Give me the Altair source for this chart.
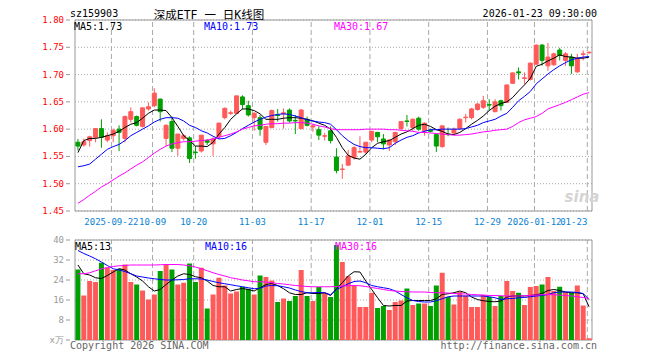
import altair as alt
import pandas as pd

# ---------------- data ----------------
opens = [1.576, 1.571, 1.579, 1.585, 1.601, 1.580, 1.588, 1.600, 1.583, 1.618, 1.623, 1.605, 1.637, 1.643, 1.655, 1.583,
         1.614, 1.565, 1.583, 1.584, 1.558, 1.560, 1.579, 1.573, 1.587, 1.621, 1.629, 1.629, 1.659, 1.643, 1.621, 1.621,
         1.576, 1.603, 1.626, 1.628, 1.635, 1.616, 1.601, 1.618, 1.604, 1.599, 1.587, 1.597, 1.549, 1.526, 1.534, 1.548,
         1.558, 1.558, 1.580, 1.594, 1.582, 1.571, 1.577, 1.601, 1.615, 1.603, 1.620, 1.597, 1.598, 1.590, 1.568, 1.591,
         1.593, 1.601, 1.621, 1.621, 1.636, 1.640, 1.645, 1.632, 1.652, 1.649, 1.684, 1.705, 1.693, 1.691, 1.719, 1.754,
         1.716, 1.718, 1.745, 1.726, 1.732, 1.705, 1.737, 1.740]
highs = [1.582, 1.583, 1.588, 1.602, 1.618, 1.594, 1.601, 1.607, 1.625, 1.640, 1.625, 1.640, 1.649, 1.675, 1.656, 1.609,
         1.623, 1.591, 1.591, 1.587, 1.569, 1.589, 1.582, 1.585, 1.612, 1.640, 1.634, 1.661, 1.662, 1.652, 1.631, 1.626,
         1.605, 1.636, 1.637, 1.638, 1.638, 1.626, 1.637, 1.623, 1.609, 1.605, 1.593, 1.605, 1.565, 1.536, 1.562, 1.569,
         1.587, 1.576, 1.597, 1.595, 1.591, 1.582, 1.595, 1.615, 1.626, 1.620, 1.623, 1.612, 1.601, 1.591, 1.607, 1.603,
         1.603, 1.620, 1.628, 1.639, 1.648, 1.661, 1.655, 1.655, 1.654, 1.681, 1.704, 1.713, 1.704, 1.722, 1.755, 1.756,
         1.758, 1.740, 1.749, 1.741, 1.738, 1.738, 1.744, 1.742]
lows = [1.561, 1.568, 1.568, 1.576, 1.566, 1.576, 1.576, 1.560, 1.576, 1.612, 1.605, 1.603, 1.634, 1.640, 1.614, 1.569,
        1.558, 1.551, 1.579, 1.538, 1.546, 1.557, 1.571, 1.551, 1.582, 1.618, 1.626, 1.628, 1.636, 1.623, 1.597, 1.588,
        1.571, 1.601, 1.614, 1.601, 1.612, 1.591, 1.600, 1.605, 1.595, 1.580, 1.579, 1.574, 1.519, 1.509, 1.533, 1.544,
        1.557, 1.554, 1.576, 1.576, 1.563, 1.560, 1.571, 1.597, 1.605, 1.597, 1.597, 1.588, 1.594, 1.558, 1.566, 1.587,
        1.591, 1.600, 1.612, 1.618, 1.634, 1.637, 1.634, 1.631, 1.634, 1.648, 1.683, 1.691, 1.683, 1.689, 1.718, 1.716,
        1.707, 1.716, 1.726, 1.716, 1.701, 1.703, 1.726, 1.738]
closes = [1.569, 1.577, 1.586, 1.601, 1.585, 1.588, 1.598, 1.594, 1.623, 1.632, 1.607, 1.639, 1.641, 1.666, 1.632, 1.607,
          1.565, 1.591, 1.588, 1.546, 1.557, 1.589, 1.576, 1.582, 1.611, 1.638, 1.630, 1.661, 1.645, 1.626, 1.629, 1.600,
          1.605, 1.634, 1.625, 1.630, 1.615, 1.615, 1.635, 1.607, 1.606, 1.589, 1.588, 1.579, 1.524, 1.527, 1.551, 1.566,
          1.559, 1.576, 1.596, 1.586, 1.573, 1.580, 1.594, 1.614, 1.614, 1.618, 1.600, 1.611, 1.596, 1.569, 1.606, 1.590,
          1.600, 1.618, 1.622, 1.637, 1.646, 1.652, 1.644, 1.650, 1.643, 1.681, 1.703, 1.703, 1.694, 1.721, 1.754, 1.726,
          1.732, 1.738, 1.735, 1.738, 1.716, 1.730, 1.738, 1.741]
ma5 = [1.557, 1.579, 1.583, 1.583, 1.585, 1.588, 1.591, 1.596, 1.603, 1.609, 1.612, 1.620, 1.629, 1.635, 1.635, 1.634,
       1.621, 1.605, 1.588, 1.579, 1.569, 1.569, 1.568, 1.576, 1.591, 1.603, 1.618, 1.628, 1.637, 1.637, 1.634, 1.628,
       1.618, 1.618, 1.618, 1.620, 1.621, 1.621, 1.620, 1.618, 1.615, 1.611, 1.607, 1.600, 1.585, 1.566, 1.552, 1.547,
       1.545, 1.554, 1.566, 1.574, 1.577, 1.579, 1.585, 1.591, 1.595, 1.601, 1.607, 1.609, 1.605, 1.599, 1.596, 1.591,
       1.590, 1.594, 1.601, 1.609, 1.616, 1.624, 1.634, 1.642, 1.647, 1.650, 1.658, 1.670, 1.681, 1.693, 1.715, 1.719,
       1.725, 1.730, 1.736, 1.733, 1.732, 1.730, 1.730, 1.732]
ma10 = [1.531, 1.533, 1.536, 1.545, 1.554, 1.563, 1.568, 1.572, 1.579, 1.588, 1.594, 1.600, 1.606, 1.613, 1.618, 1.621,
        1.621, 1.620, 1.615, 1.607, 1.603, 1.597, 1.593, 1.587, 1.582, 1.583, 1.588, 1.594, 1.601, 1.607, 1.613, 1.618,
        1.622, 1.625, 1.627, 1.628, 1.627, 1.624, 1.621, 1.617, 1.615, 1.613, 1.612, 1.609, 1.599, 1.588, 1.579, 1.572,
        1.568, 1.566, 1.566, 1.565, 1.564, 1.566, 1.574, 1.580, 1.585, 1.588, 1.593, 1.596, 1.599, 1.599, 1.600, 1.600,
        1.600, 1.600, 1.601, 1.604, 1.607, 1.612, 1.615, 1.618, 1.624, 1.629, 1.640, 1.652, 1.660, 1.669, 1.683, 1.692,
        1.701, 1.709, 1.716, 1.722, 1.727, 1.730, 1.732, 1.733]
ma30 = [1.464, 1.471, 1.479, 1.486, 1.494, 1.500, 1.507, 1.514, 1.520, 1.527, 1.534, 1.540, 1.548, 1.556, 1.563, 1.569,
        1.573, 1.575, 1.577, 1.577, 1.578, 1.579, 1.580, 1.582, 1.585, 1.588, 1.591, 1.595, 1.600, 1.603, 1.606, 1.607,
        1.609, 1.610, 1.610, 1.611, 1.611, 1.612, 1.612, 1.611, 1.609, 1.606, 1.604, 1.601, 1.599, 1.599, 1.599, 1.599,
        1.599, 1.600, 1.600, 1.600, 1.600, 1.599, 1.599, 1.598, 1.597, 1.596, 1.594, 1.594, 1.593, 1.592, 1.591, 1.590,
        1.589, 1.589, 1.590, 1.591, 1.593, 1.595, 1.596, 1.598, 1.599, 1.600, 1.605, 1.612, 1.617, 1.620, 1.623, 1.629,
        1.637, 1.641, 1.645, 1.649, 1.654, 1.659, 1.664, 1.667]
volumes = [28.2, 17.8, 23.6, 23.2, 30.9, 28.9, 28.0, 28.5, 30.2, 23.2, 22.2, 19.8, 16.2, 18.2, 27.6, 30.2,
           28.2, 22.2, 22.9, 30.6, 23.2, 28.9, 12.6, 18.2, 24.9, 21.8, 18.6, 19.4, 21.3, 20.5, 18.2, 25.8,
           25.2, 23.8, 15.2, 16.6, 15.6, 17.6, 28.0, 17.6, 15.6, 21.2, 18.9, 17.2, 38.0, 31.2, 25.5, 21.6,
           13.2, 13.2, 18.9, 12.8, 13.6, 12.0, 15.2, 15.8, 20.6, 14.0, 14.6, 14.6, 13.6, 21.8, 26.9, 17.2,
           14.2, 19.2, 17.8, 13.2, 13.2, 18.0, 17.2, 13.6, 17.6, 23.6, 19.6, 18.9, 14.0, 21.2, 21.6, 22.2,
           25.2, 19.6, 21.3, 19.2, 18.9, 21.8, 13.8, 0.7]
vol_ma5 = [30.0, 26.5, 26.0, 24.9, 24.6, 25.8, 27.2, 28.5, 28.0, 26.5, 25.2, 23.6, 21.3, 19.6, 20.2, 22.2,
           24.0, 25.6, 26.5, 26.2, 25.3, 24.9, 23.6, 21.8, 21.3, 21.3, 19.6, 20.2, 20.6, 20.2, 19.6, 20.9,
           22.2, 22.6, 21.8, 20.5, 18.9, 18.2, 18.2, 18.9, 18.6, 18.6, 18.9, 17.8, 20.5, 22.9, 25.6, 27.3,
           27.2, 23.6, 20.2, 16.9, 13.8, 13.6, 13.8, 13.8, 15.6, 15.8, 15.8, 15.8, 15.8, 16.5, 18.2, 18.5,
           18.9, 19.6, 18.9, 17.2, 16.2, 15.7, 15.4, 15.3, 15.6, 17.2, 17.6, 17.6, 17.6, 17.8, 18.1, 18.6,
           19.8, 20.2, 19.8, 19.2, 18.9, 18.9, 18.5, 13.3]
vol_ma10 = [35.8, 34.6, 33.6, 32.5, 31.2, 29.8, 28.5, 28.0, 27.4, 26.5, 25.6, 25.2, 24.8, 24.5, 24.2, 24.0,
            24.0, 24.1, 24.2, 24.5, 24.5, 24.4, 24.0, 23.4, 22.9, 22.5, 22.1, 21.7, 21.3, 20.9, 20.5, 20.7,
            21.6, 21.8, 21.7, 21.3, 20.8, 20.0, 19.4, 18.9, 18.9, 19.0, 18.9, 18.1, 20.2, 21.3, 22.5, 23.4,
            23.6, 22.9, 21.8, 21.3, 20.9, 20.5, 19.6, 18.2, 16.9, 15.8, 15.4, 15.2, 15.2, 15.7, 16.5, 17.3,
            17.6, 17.6, 17.6, 17.6, 17.6, 17.6, 17.3, 16.9, 16.2, 16.5, 16.6, 16.9, 17.0, 17.3, 17.6, 17.8,
            18.2, 18.9, 19.2, 19.2, 19.2, 19.0, 18.6, 16.2]
vol_ma30 = [26.5, 26.5, 26.9, 27.7, 28.4, 29.0, 29.4, 29.7, 29.8, 30.0, 30.0, 30.0, 30.0, 30.0, 30.1, 30.2,
            30.2, 30.2, 30.0, 29.7, 29.2, 28.5, 27.7, 26.9, 26.2, 25.6, 24.9, 24.5, 24.0, 23.7, 23.3, 23.3,
            23.2, 22.9, 22.6, 22.4, 22.1, 21.8, 21.6, 21.4, 21.3, 21.3, 21.3, 21.3, 21.4, 21.6, 21.7, 21.8,
            21.7, 21.4, 21.0, 20.6, 20.2, 19.8, 19.6, 19.4, 19.3, 19.2, 19.2, 19.2, 19.0, 18.9, 18.9, 18.8,
            18.6, 18.5, 18.4, 18.2, 18.1, 18.0, 17.8, 17.8, 17.7, 17.6, 17.6, 17.6, 17.7, 17.8, 18.0, 18.1,
            18.2, 18.1, 18.0, 17.8, 17.6, 17.3, 17.0, 16.6]

tick_idx = [6, 13, 20, 30, 40, 50, 60, 70, 78, 87]
tick_labels = ["2025-09-22", "10-09", "10-20", "11-03", "11-17", "12-01", "12-15", "12-29", "2026-01-12", "01-23"]
price_ticks = [1.45, 1.50, 1.55, 1.60, 1.65, 1.70, 1.75, 1.80]
vol_ticks = [0, 8, 16, 24, 32, 40]
vol_tick_labels = ["x万", "8", "16", "24", "32", "40"]

header_code = "sz159903"
header_title = "深成ETF 一 日K线图"
header_time = "2026-01-23 09:30:00"
price_ma_labels = ["MA5:1.73", "MA10:1.73", "MA30:1.67"]
vol_ma_labels = ["MA5:13", "MA10:16", "MA30:16"]
footer_left = "Copyright 2026 SINA.COM"
footer_right = "http://finance.sina.com.cn"

# ---------------- tables ----------------
n = len(closes)
df = pd.DataFrame({
    "i": list(range(n)), "open": opens, "high": highs, "low": lows, "close": closes,
    "ma5": ma5, "ma10": ma10, "ma30": ma30,
    "vol": volumes, "vma5": vol_ma5, "vma10": vol_ma10, "vma30": vol_ma30,
})
df["dir"] = ["up" if c >= o else "down" for o, c in zip(opens, closes)]

MONO = "DejaVu Sans Mono"
RED, GREEN = "#ff5a5a", "#00a000"
BLACK, BLUE, MAGENTA = "#000000", "#0000ff", "#ff00ff"
GRID = "#a8a8a8"
FRAME = "#999999"
XBLUE = "#0a82d2"
W, H = 527, 320
PRICE_H = 191
VOL_TOP, VOL_BOTTOM = 220, 320

grid_x = [t - 0.3 for t in tick_idx]
xs = alt.Scale(domain=[-0.5, n - 0.5], nice=False, zero=False)
ps = alt.Scale(domain=[price_ticks[0], price_ticks[-1]], range=[PRICE_H, 0], nice=False, zero=False)
vs = alt.Scale(domain=[vol_ticks[0], vol_ticks[-1]], range=[VOL_BOTTOM, VOL_TOP], nice=False, zero=False)
cs = alt.Scale(domain=["up", "down"], range=[RED, GREEN])

base = alt.Chart(df)
one = pd.DataFrame({"k": [0]})
vgrid_df = pd.DataFrame({"t": grid_x})
xlab_df = pd.DataFrame({"t": grid_x, "label": tick_labels})
plab_df = pd.DataFrame({"v": price_ticks, "label": [f"{v:.2f}" for v in price_ticks]})
vlab_df = pd.DataFrame({"v": vol_ticks, "label": vol_tick_labels})

X_I = alt.X("i:Q", scale=xs, axis=None)


def text_mark(text, x, y, color=BLACK, align="left", size=10, font=MONO, **kw):
    return alt.Chart(pd.DataFrame({"t": [text]})).mark_text(
        align=align, baseline="alphabetic", font=font, fontSize=size, color=color, **kw
    ).encode(x=alt.value(x), y=alt.value(y), text="t:N")


def vgrid(scale, lo, hi):
    return alt.Chart(vgrid_df).mark_rule(color=GRID, strokeDash=[5, 3], strokeWidth=1).encode(
        x=alt.X("t:Q", scale=xs, axis=None),
        y=alt.YDatum(lo, type="quantitative", scale=scale, axis=None),
        y2=alt.Y2Datum(hi),
    )


def hgrid(tab, scale):
    return alt.Chart(tab).mark_rule(color=GRID, strokeDash=[1, 2], strokeWidth=1).encode(
        x=alt.XDatum(-0.5, type="quantitative", scale=xs, axis=None),
        x2=alt.X2Datum(n - 0.5),
        y=alt.Y("v:Q", scale=scale, axis=None),
    )


def yticks(tab, scale):
    return alt.Chart(tab).mark_rule(color=FRAME, strokeWidth=1).encode(
        x=alt.value(-4), x2=alt.value(0), y=alt.Y("v:Q", scale=scale, axis=None))


def ylabels(tab, scale, color):
    return alt.Chart(tab).mark_text(align="right", baseline="middle", font=MONO, fontSize=9,
                                    color=color).encode(
        x=alt.value(-6), y=alt.Y("v:Q", scale=scale, axis=None), text="label:N")


def border(scale, lo, hi):
    return alt.Chart(one).mark_rect(fill="transparent", stroke=FRAME, strokeWidth=1).encode(
        x=alt.XDatum(-0.5, type="quantitative", scale=xs, axis=None),
        x2=alt.X2Datum(n - 0.5),
        y=alt.YDatum(lo, type="quantitative", scale=scale, axis=None),
        y2=alt.Y2Datum(hi),
    )


def line(field, color, scale):
    return base.mark_line(color=color, strokeWidth=1).encode(
        x=X_I, y=alt.Y(f"{field}:Q", scale=scale, axis=None))


wick = base.mark_rule(strokeWidth=1).encode(
    x=X_I,
    y=alt.Y("low:Q", scale=ps, axis=None),
    y2="high:Q",
    color=alt.Color("dir:N", scale=cs, legend=None),
)
body = base.mark_bar(size=4, strokeWidth=1).encode(
    x=X_I,
    y=alt.Y("open:Q", scale=ps, axis=None),
    y2="close:Q",
    fill=alt.Fill("dir:N", scale=cs, legend=None),
    stroke=alt.Stroke("dir:N", scale=cs, legend=None),
)

xlabels_mid = alt.Chart(xlab_df.iloc[:-1]).mark_text(
    align="center", baseline="middle", font=MONO, fontSize=9, color=XBLUE
).encode(x=alt.X("t:Q", scale=xs, axis=None), y=alt.value(201.5), text="label:N")
xlabels_last = alt.Chart(xlab_df.iloc[-1:]).mark_text(
    align="right", baseline="middle", font=MONO, fontSize=9, color=XBLUE
).encode(x=alt.X("t:Q", scale=xs, axis=None), y=alt.value(201.5), text="label:N")

price = alt.layer(
    hgrid(plab_df, ps),
    vgrid(ps, price_ticks[0], price_ticks[-1]),
    border(ps, price_ticks[0], price_ticks[-1]),
    yticks(plab_df, ps),
    ylabels(plab_df, ps, "#ff0000"),
    xlabels_mid, xlabels_last,
    text_mark("sina", 512, 182, color="#d4d4d4", align="center", size=15, font="DejaVu Sans",
              fontStyle="italic", fontWeight="bold"),
    wick, body,
    line("ma5", BLACK, ps), line("ma10", BLUE, ps), line("ma30", MAGENTA, ps),
    text_mark(price_ma_labels[0], 4, 9.5, BLACK),
    text_mark(price_ma_labels[1], 134, 9.5, BLUE),
    text_mark(price_ma_labels[2], 264, 9.5, MAGENTA),
    text_mark(header_code, 0, -3.5, BLACK),
    text_mark(header_title, 139, -1.5, BLACK, align="center", size=11.5,
              font="DejaVu Sans Mono, Noto Sans CJK SC"),
    text_mark(header_time, W, -3.5, BLACK, align="right"),
)

bars = base.mark_bar(size=5).encode(
    x=X_I,
    y=alt.Y("vol:Q", scale=vs, stack=None, axis=None),
    color=alt.Color("dir:N", scale=cs, legend=None),
)

volume = alt.layer(
    hgrid(vlab_df, vs),
    vgrid(vs, vol_ticks[0], vol_ticks[-1]),
    border(vs, vol_ticks[0], vol_ticks[-1]),
    yticks(vlab_df, vs),
    ylabels(vlab_df, vs, "#999999"),
    bars,
    line("vma5", BLACK, vs), line("vma10", BLUE, vs), line("vma30", MAGENTA, vs),
    text_mark(vol_ma_labels[0], 5, 229.5, BLACK),
    text_mark(vol_ma_labels[1], 135, 229.5, BLUE),
    text_mark(vol_ma_labels[2], 265, 229.5, MAGENTA),
    text_mark(footer_left, 0, 329, "#666666"),
    text_mark(footer_right, W, 329, "#666666", align="right"),
)

chart = alt.layer(price, volume).resolve_scale(y="independent").properties(
    width=W, height=H,
    padding={"left": 62, "top": 12, "right": 55, "bottom": 12},
    autosize=alt.AutoSizeParams(type="none"),
    background="white",
).configure_view(stroke=None)

chart.save("out.html", embed_options={"renderer": "svg", "actions": False})
